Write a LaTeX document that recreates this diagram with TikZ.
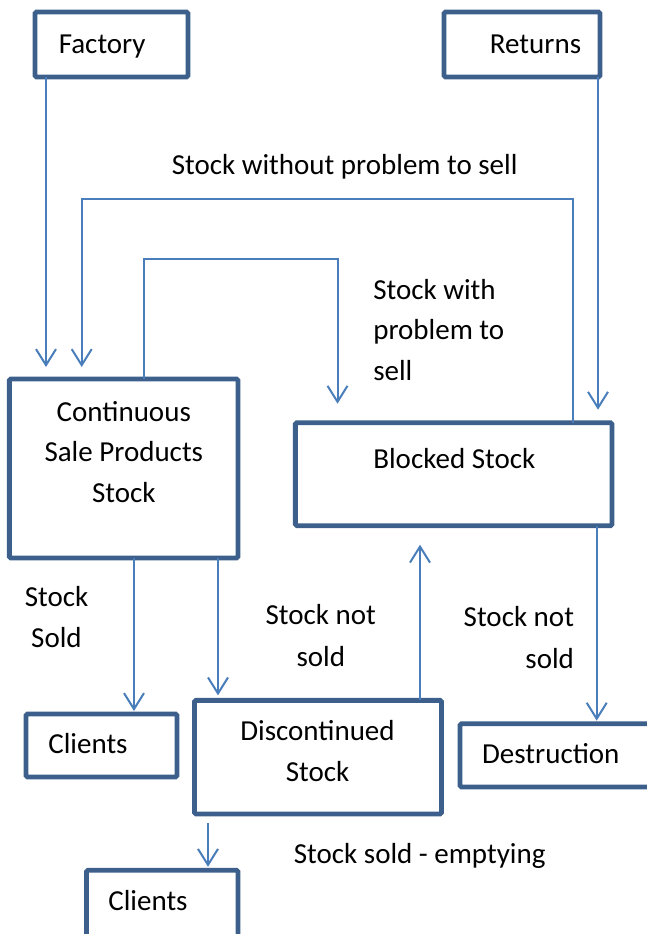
\documentclass[tikz,border=0pt]{standalone}
\usepackage{fontspec}
\setmainfont{Carlito}
\usetikzlibrary{arrows.meta}
\definecolor{boxblue}{HTML}{3C5F8C}
\definecolor{lineblue}{HTML}{4A7EBB}
\begin{document}
\begin{tikzpicture}[x=1pt,y=-1pt,
  box/.style={draw=boxblue,line width=4.8pt,rounded corners=1.5pt,outer sep=0pt,inner sep=0pt,anchor=center},
  conn/.style={draw=lineblue,line width=2pt},
  arr/.style={conn,-{Straight Barb[length=16pt,width=20pt]}},
  txt/.style={anchor=base,inner sep=0pt,outer sep=0pt,font=\fontsize{29}{41}\selectfont},
  txtl/.style={txt,anchor=base west},
  txtr/.style={txt,anchor=base east}
]
\useasboundingbox (0,0) rectangle (646,934);
% boxes
\node[box,minimum width=153pt,minimum height=65pt] (factory) at (111.5,44.5) {};
\node[box,minimum width=156pt,minimum height=65pt] (returns) at (522,44.5) {};
\node[box,minimum width=228.7pt,minimum height=179pt] (cont) at (123.7,468.5) {};
\node[box,minimum width=316.7pt,minimum height=103pt] (blocked) at (453.7,474.2) {};
\node[box,minimum width=151pt,minimum height=63pt] (clients1) at (101.5,745.5) {};
\node[box,minimum width=247pt,minimum height=113.7pt] (disc) at (318,757.2) {};
\node[box,minimum width=200pt,minimum height=63.3pt] (destr) at (560,755.3) {};
\node[box,minimum width=151.6pt,minimum height=90pt] (clients2) at (162.2,915.3) {};
% box texts
\node[txt] (tfactory) at (102.2,53) {Factory};
\node[txt] (treturns) at (535.5,53) {Returns};
\node[txt] (tcont1) at (123.8,421) {Continuous};
\node[txt] (tcont2) at (123.8,461.7) {Sale Products};
\node[txt] (tcont3) at (123.8,502.3) {Stock};
\node[txt] (tblocked) at (454.3,468) {Blocked Stock};
\node[txt] (tclients1) at (88,753) {Clients};
\node[txt] (tdisc1) at (317.5,740) {Discontinued};
\node[txt] (tdisc2) at (317.5,781.7) {Stock};
\node[txt] (tdestr) at (550.8,763.3) {Destruction};
\node[txt] (tclients2) at (148,910) {Clients};
% labels
\node[txt] (lwo) at (344.7,174.3) {Stock without problem to sell};
\node[txtl] (lwi1) at (373.3,299) {Stock with};
\node[txtl] (lwi2) at (373.3,339.5) {problem to};
\node[txtl] (lwi3) at (373.3,380) {sell};
\node[txt] (lss1) at (56.5,606) {Stock};
\node[txt] (lss2) at (56.5,647) {Sold};
\node[txt] (lns1) at (320.8,624) {Stock not};
\node[txt] (lns2) at (320.8,666) {sold};
\node[txtr] (lnr1) at (574,626.7) {Stock not};
\node[txtr] (lnr2) at (574,668) {sold};
\node[txt] (lemp) at (419.7,863.3) {Stock sold - emptying};
% column coordinates
\coordinate (cf) at (46,0);
\coordinate (cr) at (598,0);
\coordinate (cs1) at (134,0);
\coordinate (cs2) at (218,0);
\coordinate (cb) at (596.7,0);
\coordinate (cd) at (420,0);
\coordinate (ce) at (208,0);
\coordinate (wo1) at (572.5,199);
\coordinate (wo2) at (81.7,199);
\coordinate (wi1) at (144,259);
\coordinate (wi2) at (337.5,259);
% connectors
\draw[arr,shorten >=12pt] (factory.south -| cf) -- (cont.north -| cf);
\draw[arr,shorten >=13pt] (returns.south -| cr) -- (blocked.north -| cr);
\draw[arr,shorten >=12pt] (blocked.north -| wo1) -- (wo1) -- (wo2) -- (cont.north -| wo2);
\draw[arr,shorten >=19pt] (cont.north -| wi1) -- (wi1) -- (wi2) -- (blocked.north -| wi2);
\draw[arr,shorten >=3pt] (cont.south -| cs1) -- (clients1.north -| cs1);
\draw[arr,shorten >=5pt] (cont.south -| cs2) -- (disc.north -| cs2);
\draw[arr,shorten >=3pt] (blocked.south -| cb) -- (destr.north -| cb);
\draw[arr,shorten >=19pt] (disc.north -| cd) -- (blocked.south -| cd);
\draw[arr,shorten <=9pt,shorten >=3.5pt] (disc.south -| ce) -- (clients2.north -| ce);
\end{tikzpicture}
\end{document}
